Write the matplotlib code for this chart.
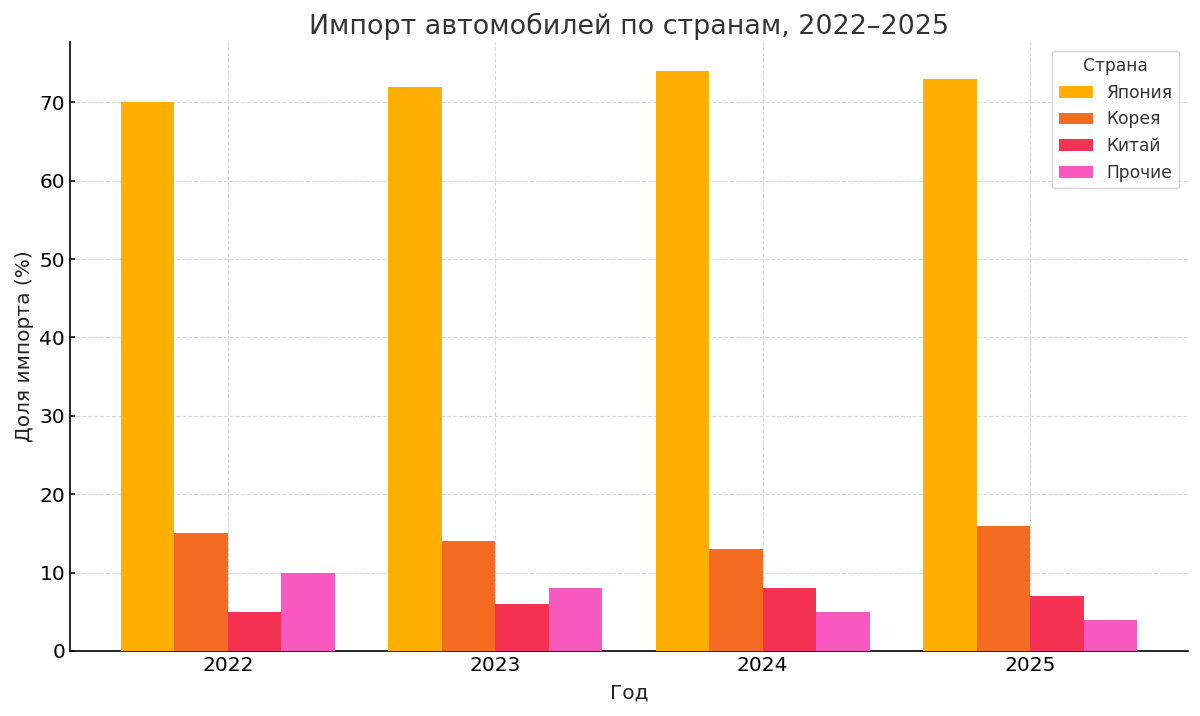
import numpy as np
import matplotlib
matplotlib.use("Agg")
import matplotlib.pyplot as plt

years = ["2022", "2023", "2024", "2025"]
countries = ["Япония", "Корея", "Китай", "Прочие"]
japan = [70, 72, 74, 73]
korea = [15, 14, 13, 16]
china = [5, 6, 8, 7]
other = [10, 8, 5, 4]
colors = ["#FFAF00", "#F46B22", "#F43254", "#F759C0"]

series = [japan, korea, china, other]
x = np.arange(len(years))
w = 0.2

fig, ax = plt.subplots(figsize=(12, 7.16), dpi=100)
for i, (vals, name) in enumerate(zip(series, countries)):
    ax.bar(x + (i - 1.5) * w, vals, w, label=name, color=colors[i], zorder=3)

ax.set_xticks(x)
ax.set_xticklabels(years)
ax.tick_params(direction="in", labelsize=14.5, width=1.1)
ax.grid(True, linestyle="--", color="#d9d9d9", linewidth=0.8, zorder=0)
ax.spines["top"].set_visible(False)
ax.spines["right"].set_visible(False)
for s in ("left", "bottom"):
    ax.spines[s].set_linewidth(1.2)
ax.set_title("Импорт автомобилей по странам, 2022–2025", fontsize=19.4, color="#333333")
ax.set_xlabel("Год", fontsize=14.5, color="#222222", labelpad=6)
ax.set_ylabel("Доля импорта (%)", fontsize=14.5, color="#222222")
leg = ax.legend(title="Страна", fontsize=12.3, title_fontsize=12.3, loc="upper right")
for t in leg.get_texts():
    t.set_color("#333333")
leg.get_title().set_color("#333333")

fig.subplots_adjust(left=0.0583, right=0.99, top=0.9413, bottom=0.0908)
fig.savefig("out.png")
